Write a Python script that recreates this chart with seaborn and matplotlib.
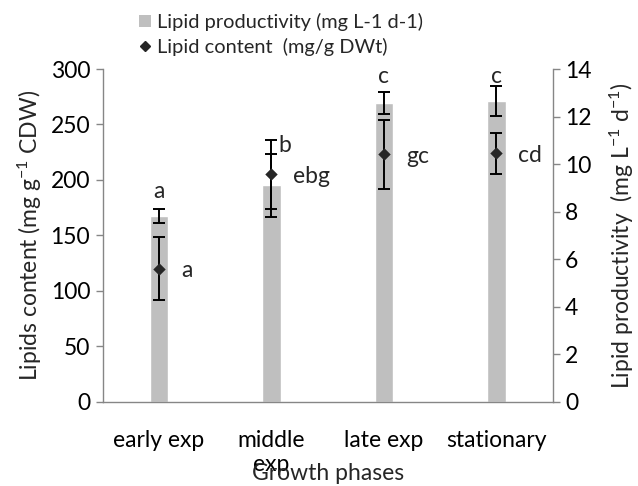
import numpy as np
import matplotlib
matplotlib.use("Agg")
import matplotlib.pyplot as plt
import seaborn as sns
from matplotlib.patches import Patch
from matplotlib.lines import Line2D

# ---- data ----
categories = ["early exp", "middle\nexp", "late exp", "stationary"]
productivity = [7.82, 9.11, 12.58, 12.65]          # right axis, mg L-1 d-1 (bars)
productivity_err = [0.30, 1.33, 0.47, 0.64]
content = [120, 205, 223, 224]                      # left axis, mg/g DWt (diamonds)
content_err = [28.5, 31.0, 31.0, 18.7]
bar_letters = ["a", "b", "c", "c"]
point_letters = ["a", "ebg", "gc", "cd"]

sns.set_style("white")
plt.rcParams["font.family"] = ["Lato", "DejaVu Sans"]
plt.rcParams["mathtext.fontset"] = "custom"
plt.rcParams["mathtext.rm"] = "Lato"
plt.rcParams["mathtext.it"] = "Lato:italic"
plt.rcParams["mathtext.bf"] = "Lato:bold"

FS = 16.5
AXC = "#868686"

fig = plt.figure(figsize=(6.38, 4.86), dpi=100)
ax = fig.add_axes([0.161, 0.173, 0.705, 0.685])
ax2 = ax.twinx()
ax.set_zorder(ax2.get_zorder() + 1)
ax.patch.set_visible(False)

x = np.arange(len(categories))

# bars (right axis)
sns.barplot(x=x, y=productivity, color="#BFBFBF", saturation=1, width=0.166,
            errorbar=None, ax=ax2, native_scale=True)
ax2.errorbar(x, productivity, yerr=productivity_err, fmt="none", ecolor="black",
             elinewidth=1.4, capsize=4.3, capthick=1.4, zorder=4)

# diamonds (left axis)
sns.scatterplot(x=x, y=content, marker="D", s=40, color="#262626",
                edgecolor="#262626", linewidth=0, ax=ax, zorder=6)
ax.errorbar(x, content, yerr=content_err, fmt="none", ecolor="black",
            elinewidth=1.4, capsize=4.3, capthick=1.4, zorder=5)

ax.set_xlim(-0.5, 3.5)
ax.set_ylim(0, 300)
ax2.set_ylim(0, 14)
ax.set_yticks(np.arange(0, 301, 50))
ax2.set_yticks(np.arange(0, 15, 2))
ax.set_xticks(x)
ax.set_xticklabels(categories, fontsize=FS, linespacing=1.2)
ax.set_xticks(np.arange(-0.5, 3.6, 1), minor=True)
ax.tick_params(axis="x", which="major", length=0, pad=20, labelcolor="black")
ax.tick_params(axis="x", which="minor", length=7, width=1.0, color=AXC, direction="out")
ax.tick_params(axis="y", left=True, length=5, width=1.0, color=AXC, direction="out",
               labelsize=FS, pad=4, labelcolor="black")
ax2.tick_params(axis="y", right=True, length=5, width=1.0, color=AXC, direction="out",
                labelsize=FS, pad=4, labelcolor="black")

for a in (ax, ax2):
    a.spines["top"].set_visible(False)
    for s in ("left", "right", "bottom"):
        a.spines[s].set_color(AXC)
        a.spines[s].set_linewidth(1.0)
ax.spines["right"].set_visible(False)
ax2.spines["left"].set_visible(False)
ax2.spines["bottom"].set_visible(False)

ax.set_xlabel("Growth phases", fontsize=FS, labelpad=-9)
ax.set_ylabel(r"Lipids content (mg g$^{\mathregular{-1}}$ CDW)", fontsize=FS, labelpad=5)
ax2.set_ylabel(r"Lipid productivity  (mg L$^{\mathregular{-1}}$ d$^{\mathregular{-1}}$)",
               fontsize=FS, labelpad=12, rotation=90)

# letters
bar_offsets = [(0, 24), (13, 40), (0, 26), (0, 25)]
for xi, yv, lab, off in zip(x, productivity, bar_letters, bar_offsets):
    ax2.annotate(lab, (xi, yv), xytext=off, textcoords="offset pixels",
                 ha="center", va="center", fontsize=FS)
for xi, yv, lab in zip(x, content, point_letters):
    ax.annotate(lab, (xi, yv), xytext=(22, -2), textcoords="offset pixels",
                ha="left", va="center", fontsize=FS)

handles = [Patch(facecolor="#BFBFBF", edgecolor="none"),
           Line2D([], [], marker="D", color="#262626", linestyle="none", markersize=5)]
fig.legend(handles, ["Lipid productivity (mg L-1 d-1)", "Lipid content  (mg/g DWt)"],
           loc="upper left", bbox_to_anchor=(0.205, 0.99), frameon=False,
           fontsize=14.4, handlelength=0.6, handleheight=0.6, handletextpad=0.3,
           labelspacing=0.35, borderaxespad=0)

fig.savefig("out.png", dpi=100)
